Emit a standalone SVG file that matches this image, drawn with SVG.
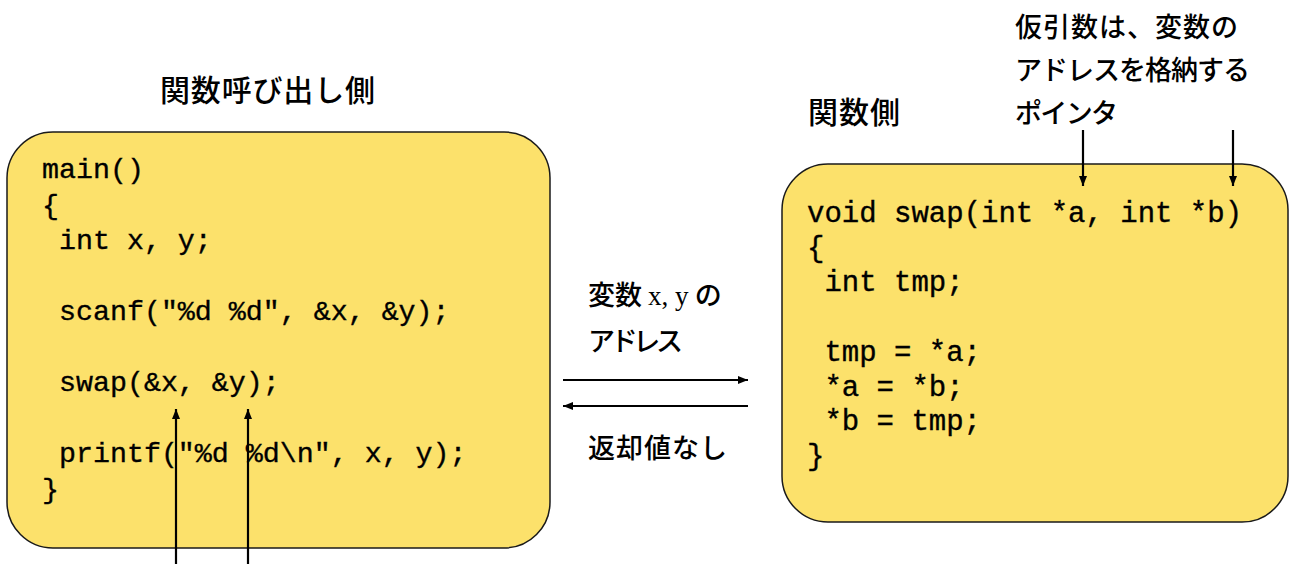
<svg xmlns="http://www.w3.org/2000/svg" width="1291" height="564" viewBox="0 0 1291 564">
<style>
.box{fill:#FCE16B;stroke:#1a1a1a;stroke-width:1.5}
.code{font-family:"Liberation Mono","Courier New",monospace;fill:#000;stroke:#000;stroke-width:0.35}
.jp{font-family:"Noto Sans CJK JP","Noto Sans",sans-serif;fill:#000;font-weight:500}
.ser{font-family:"Liberation Serif","Times New Roman",serif;font-weight:normal}
.arr{stroke:#000;stroke-width:2.2;fill:none}
</style>
<defs>
<marker id="ah" viewBox="0 0 10 10" refX="10" refY="5" markerWidth="11" markerHeight="10" markerUnits="userSpaceOnUse" orient="auto">
<path d="M0,1 L10,5 L0,9 Z" fill="#000"/>
</marker>
</defs>
<rect width="1291" height="564" fill="#fff"/>

<g id="node-caller">
<rect class="box" x="7" y="132" width="543" height="416" rx="46" ry="46"/>
<g class="code" font-size="28.3">
<text x="42" y="178">main()</text>
<text x="42" y="213.5">{</text>
<text x="59" y="249">int x, y;</text>
<text x="59" y="320">scanf("%d %d", &amp;x, &amp;y);</text>
<text x="59" y="391">swap(&amp;x, &amp;y);</text>
<text x="59" y="462">printf("%d %d\n", x, y);</text>
<text x="42" y="497.5">}</text>
</g>
</g>

<g id="node-callee">
<rect class="box" x="782" y="164" width="506" height="358" rx="46" ry="46"/>
<g class="code" font-size="29">
<text x="807" y="222">void swap(int *a, int *b)</text>
<text x="807" y="256.7">{</text>
<text x="824.4" y="291.4">int tmp;</text>
<text x="824.4" y="360.8">tmp = *a;</text>
<text x="824.4" y="395.5">*a = *b;</text>
<text x="824.4" y="430">*b = tmp;</text>
<text x="807" y="465">}</text>
</g>
</g>

<g id="labels">
<text class="jp" x="160" y="101" font-size="30" textLength="215" lengthAdjust="spacing">関数呼び出し側</text>
<text class="jp" x="808" y="123" font-size="30" textLength="92" lengthAdjust="spacing">関数側</text>
<text class="jp" x="1015" y="37" font-size="27" textLength="223" lengthAdjust="spacing">仮引数は、変数の</text>
<text class="jp" x="1015" y="80" font-size="27" textLength="235" lengthAdjust="spacing">アドレスを格納する</text>
<text class="jp" x="1015" y="123" font-size="27" textLength="103" lengthAdjust="spacing">ポインタ</text>
<text class="jp" x="588" y="305" font-size="27">変数 <tspan class="ser" font-size="27">x, y</tspan> の</text>
<text class="jp" x="588" y="351" font-size="27" textLength="95" lengthAdjust="spacing">アドレス</text>
<text class="jp" x="588" y="458" font-size="27" textLength="139" lengthAdjust="spacing">返却値なし</text>
</g>

<g id="connectors">
<line class="arr" x1="563" y1="380" x2="748" y2="380" marker-end="url(#ah)"/>
<line class="arr" x1="748" y1="406" x2="563" y2="406" marker-end="url(#ah)"/>
<line class="arr" x1="176" y1="564" x2="176" y2="409" marker-end="url(#ah)"/>
<line class="arr" x1="248" y1="564" x2="248" y2="409" marker-end="url(#ah)"/>
<line class="arr" x1="1083" y1="130" x2="1083" y2="186" marker-end="url(#ah)"/>
<line class="arr" x1="1233" y1="130" x2="1233" y2="186" marker-end="url(#ah)"/>
</g>
</svg>
